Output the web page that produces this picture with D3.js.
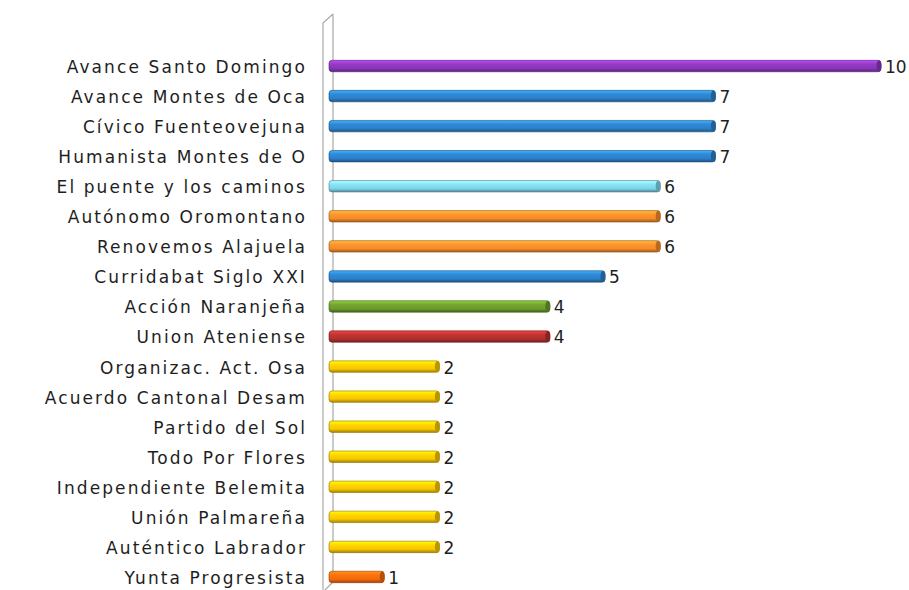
<!DOCTYPE html>
<html>
<head>
<meta charset="utf-8">
<script src="https://cdn.jsdelivr.net/npm/d3@7"></script>
<style>
  body { margin: 0; background: #fff; }
  text { font-family: "DejaVu Sans", sans-serif; }
</style>
</head>
<body>
<div id="chart"></div>
<script>
var parties = ['Avance Santo Domingo', 'Avance Montes de Oca', 'Cívico Fuenteovejuna',
  'Humanista Montes de O', 'El puente y los caminos', 'Autónomo Oromontano',
  'Renovemos Alajuela', 'Curridabat Siglo XXI', 'Acción Naranjeña', 'Union Ateniense',
  'Organizac. Act. Osa', 'Acuerdo Cantonal Desam', 'Partido del Sol', 'Todo Por Flores',
  'Independiente Belemita', 'Unión Palmareña', 'Auténtico Labrador', 'Yunta Progresista']
var seats = [10, 7, 7, 7, 6, 6, 6, 5, 4, 4, 2, 2, 2, 2, 2, 2, 2, 1]
var barColors = ['#8a36b8', '#2c80c8', '#2c80c8', '#2c80c8', '#7fd4e8', '#f58a2a',
  '#f58a2a', '#2c80c8', '#6c9a2c', '#b3302f', '#f7c600', '#f7c600', '#f7c600',
  '#f7c600', '#f7c600', '#f7c600', '#f7c600', '#f26a0c']

var w = 909, h = 590

var svg = d3.select('#chart').append('svg')
  .attr('width', w).attr('height', h)

var x = d3.scaleLinear().domain([0, 10]).range([329, 881])
var y = d3.scaleBand().domain(parties).range([51, 592]).paddingInner(0.62).paddingOuter(0.31)

// gradients for the cylinder look
var defs = svg.append('defs')
var uniq = Array.from(new Set(barColors))
uniq.forEach(function(c, i) {
  var g = defs.append('linearGradient').attr('id', 'g' + i)
    .attr('x1', 0).attr('y1', 0).attr('x2', 0).attr('y2', 1)
  var base = d3.color(c)
  g.append('stop').attr('offset', '0%').attr('stop-color', base.brighter(0.9))
  g.append('stop').attr('offset', '35%').attr('stop-color', base.brighter(0.2))
  g.append('stop').attr('offset', '70%').attr('stop-color', base)
  g.append('stop').attr('offset', '100%').attr('stop-color', base.darker(1.2))
})

// 3D wall
var wall = svg.append('g').attr('fill', 'none').attr('stroke', '#a8a8a8').attr('stroke-width', 1.2)
wall.append('path').attr('d', 'M323,23 L323,590')
wall.append('path').attr('d', 'M333,14 L333,582 L325,590')
wall.append('path').attr('d', 'M323,23 L333,14')

// bars
var bars = svg.selectAll('.bar')
  .data(parties)
  .enter().append('g')
  .attr('class', 'bar')

bars.append('rect')
  .attr('x', x(0))
  .attr('y', function(d) { return y(d) })
  .attr('width', function(d, i) { return x(seats[i]) - x(0) })
  .attr('height', y.bandwidth())
  .attr('rx', 3)
  .attr('fill', function(d, i) { return 'url(#g' + uniq.indexOf(barColors[i]) + ')' })
  .attr('stroke', function(d, i) { return d3.color(barColors[i]).darker(1.5) })
  .attr('stroke-width', 0.6)

// end caps
bars.append('ellipse')
  .attr('cx', function(d, i) { return x(seats[i]) - 2 })
  .attr('cy', function(d) { return y(d) + y.bandwidth() / 2 })
  .attr('rx', 2.5)
  .attr('ry', y.bandwidth() / 2)
  .attr('fill', function(d, i) { return d3.color(barColors[i]).darker(0.8) })

// values
bars.append('text')
  .attr('x', function(d, i) { return x(seats[i]) + 4 })
  .attr('y', function(d) { return y(d) + y.bandwidth() / 2 + 1 })
  .attr('dy', '0.35em')
  .attr('font-size', 17)
  .attr('fill', '#1e1e1e')
  .text(function(d, i) { return seats[i] })

// category labels
svg.selectAll('.lbl')
  .data(parties)
  .enter().append('text')
  .attr('class', 'lbl')
  .attr('x', 307)
  .attr('y', function(d) { return y(d) + y.bandwidth() / 2 + 1 })
  .attr('dy', '0.35em')
  .attr('text-anchor', 'end')
  .attr('font-size', 17)
  .attr('letter-spacing', 2.1)
  .attr('fill', '#1e1e1e')
  .text(function(d) { return d })
</script>
</body>
</html>
